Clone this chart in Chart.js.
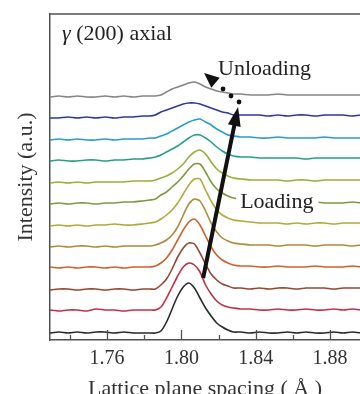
<!DOCTYPE html>
<html>
<head>
<meta charset="utf-8">
<script src="https://cdn.jsdelivr.net/npm/chart.js@4.4.1/dist/chart.umd.min.js"></script>
<style>
  html, body { margin: 0; padding: 0; background: #fff; overflow: hidden; }
  #wrap { width: 360px; height: 394px; position: relative; }
</style>
</head>
<body>
<div id="wrap"><canvas id="chart"></canvas></div>
<script>
// lattice spacing grid (Å)
const xs = [
  1.729, 1.734, 1.739, 1.744, 1.749, 1.754, 1.759, 1.764, 1.769, 1.774, 1.779, 1.783,
  1.786, 1.789, 1.792, 1.795, 1.798, 1.801, 1.804, 1.807, 1.810, 1.813, 1.816, 1.819, 1.822, 1.825, 1.828,
  1.832, 1.837, 1.842, 1.847, 1.852, 1.857, 1.862, 1.867, 1.872, 1.877, 1.882, 1.887, 1.892, 1.897
]

// intensity above each trace's own baseline (a.u.), bottom trace first
const black = [0,1,0,1,0,1,1,0,1,0,0,0, 0,2,11,24,37,46,50,45,35,25,17,10,6,3,1, 1,0,1,0,0,1,0,1,0,0,1,0,1,0]
const crimson = [1,0,1,1,0,2,1,1,0,1,1,1, 1,4,13,24,35,44,48,46,39,26,17,10,6,4,3, 2,2,1,1,2,1,1,2,1,1,2,1,2,1]
const brown = [0,1,1,0,1,1,0,1,1,0,1,1, 1,5,11,21,33,42,47,46,37,26,16,10,6,4,2, 2,1,2,1,2,2,1,2,2,2,1,2,2,2]
const orange = [1,0,1,0,1,1,0,1,0,1,1,1, 2,5,10,18,28,38,46,49,43,32,21,13,8,5,3, 2,2,1,1,2,1,1,1,2,1,1,1,2,1]
const gold = [0,1,0,1,1,0,1,0,1,1,1,1, 2,4,7,12,20,32,43,48,46,36,24,15,9,6,4, 3,2,2,2,1,2,2,2,1,2,2,2,1,2]
const yellow = [0,1,0,1,0,1,1,2,1,1,2,3, 4,7,11,16,23,32,41,47,47,36,25,16,11,8,6, 5,4,3,3,3,2,3,2,3,3,2,3,3,3]
const olive = [0,1,0,1,1,0,1,1,2,2,3,4, 5,9,12,17,22,28,35,40,40,32,22,15,11,8,6, 5,3,2,2,1,2,1,1,2,1,1,1,2,1]
const green = [0,1,0,1,0,1,1,1,1,2,2,2, 3,5,7,10,14,19,26,31,33,29,21,14,10,7,5, 4,3,3,3,3,2,3,3,2,3,3,3,3,3]
const teal = [0,1,0,0,1,1,0,1,1,2,2,3, 4,6,9,12,15,19,23,26,26,23,19,14,10,7,5, 4,4,3,3,3,3,3,2,3,3,3,3,3,3]
const cyan = [0,1,0,1,0,0,1,0,1,1,1,2, 2,4,6,9,12,15,18,20,21,18,15,11,8,5,4, 3,3,2,2,3,2,2,2,2,3,2,2,2,2]
const blue = [0,0,1,0,1,0,1,0,1,1,2,2, 3,6,8,10,12,14,15,15,14,12,10,8,6,5,3, 3,3,3,2,3,2,3,3,2,3,3,3,2,3]
const gray = [0,1,0,1,0,0,1,0,1,0,1,1, 1,2,5,8,10,12,14,15,13,10,8,6,5,4,3, 3,2,2,2,3,2,2,2,2,2,2,2,2,2]

const profiles = [black, crimson, brown, orange, gold, yellow, olive, green, teal, cyan, blue, gray]
const offsets = [7, 29, 50, 72, 93, 114, 136, 157, 179, 200, 222, 243]
const colors = ['#2a2a2a', '#c0304a', '#9a4530', '#d0602a', '#b08a3a', '#b0aa3a',
                '#7e9a3e', '#98b03a', '#25a085', '#2a9bd0', '#2a3a9e', '#858585']

const tickVals = [1.74, 1.76, 1.78, 1.80, 1.82, 1.84, 1.86, 1.88]
const tickLabels = ['1.76', '1.80', '1.84', '1.88']

const serif = '"Liberation Serif", "DejaVu Serif", serif'
const frameColor = '#505050'

function drawArrowHead(ctx, tx, ty, fromX, fromY, len, w) {
  const ang = Math.atan2(ty - fromY, tx - fromX)
  ctx.beginPath()
  ctx.moveTo(tx, ty)
  ctx.lineTo(tx - len * Math.cos(ang) + (w / 2) * Math.sin(ang), ty - len * Math.sin(ang) - (w / 2) * Math.cos(ang))
  ctx.lineTo(tx - len * Math.cos(ang) - (w / 2) * Math.sin(ang), ty - len * Math.sin(ang) + (w / 2) * Math.cos(ang))
  ctx.closePath()
  ctx.fill()
}

const overlay = {
  id: 'overlay',
  afterDraw(chart) {
    const { ctx, chartArea: a, scales: { x, y } } = chart
    const px = v => x.getPixelForValue(v)
    const py = v => y.getPixelForValue(v)
    ctx.save()

    // top frame line
    ctx.strokeStyle = frameColor
    ctx.lineWidth = 1.5
    ctx.beginPath()
    ctx.moveTo(a.left, a.top)
    ctx.lineTo(a.right, a.top)
    ctx.stroke()

    // inward tick marks
    ctx.lineWidth = 1.3
    tickVals.forEach(v => {
      const len = tickLabels.includes(v.toFixed(2)) ? 10 : 5
      const xp = Math.round(px(v)) + 0.5
      ctx.beginPath()
      ctx.moveTo(xp, a.bottom)
      ctx.lineTo(xp, a.bottom - len)
      ctx.stroke()
    })

    ctx.fillStyle = '#222'
    ctx.textBaseline = 'alphabetic'

    // panel label
    ctx.font = 'italic 22px ' + serif
    ctx.fillText('γ', px(1.7358), py(300))
    const gw = ctx.measureText('γ').width
    ctx.font = '22px ' + serif
    ctx.fillText(' (200) axial', px(1.7358) + gw, py(300))

    // Unloading label
    ctx.fillText('Unloading', px(1.8197), py(265))

    // Loading label on a white patch
    const lw = ctx.measureText('Loading').width
    ctx.fillStyle = '#fff'
    ctx.fillRect(px(1.8316) - 4, py(132) - 19, lw + 9, 26)
    ctx.fillStyle = '#222'
    ctx.fillText('Loading', px(1.8316), py(132))

    // loading arrow
    ctx.fillStyle = '#111'
    ctx.strokeStyle = '#111'
    const x0 = px(1.8117), y0 = py(62), x1 = px(1.8305), y1 = py(233)
    const ang = Math.atan2(y1 - y0, x1 - x0)
    ctx.lineWidth = 4
    ctx.beginPath()
    ctx.moveTo(x0, y0)
    ctx.lineTo(x1 - 14 * Math.cos(ang), y1 - 14 * Math.sin(ang))
    ctx.stroke()
    drawArrowHead(ctx, x1, y1, x0, y0, 19, 13)

    // unloading dotted path
    const dots = [[1.8224, 251], [1.8267, 244], [1.8310, 238]]
    dots.forEach(d => {
      ctx.beginPath()
      ctx.arc(px(d[0]), py(d[1]), 2.4, 0, Math.PI * 2)
      ctx.fill()
    })
    drawArrowHead(ctx, px(1.8122), py(267), px(1.8224), py(251), 15, 13)

    ctx.restore()
  }
}

const datasets = profiles.map((p, i) => ({
  data: xs.map((xv, j) => ({ x: xv, y: p[j] + offsets[i] })),
  borderColor: colors[i],
  borderWidth: 1.6,
  pointRadius: 0,
  tension: 0.25,
  fill: false
}))

new Chart(document.getElementById('chart'), {
  type: 'line',
  data: { datasets },
  options: {
    responsive: true,
    maintainAspectRatio: false,
    animation: false,
    layout: { padding: { top: 14, right: 0, left: 0, bottom: 0 } },
    plugins: { legend: { display: false }, tooltip: { enabled: false } },
    scales: {
      x: {
        type: 'linear',
        min: 1.7293,
        max: 1.8961,
        afterBuildTicks: scale => { scale.ticks = tickVals.map(v => ({ value: v })) },
        afterFit: scale => { scale.height = 54 },
        ticks: {
          autoSkip: false,
          maxRotation: 0,
          padding: 7,
          color: '#333',
          font: { family: serif, size: 20 },
          callback: v => tickLabels.includes(Number(v).toFixed(2)) ? Number(v).toFixed(2) : ''
        },
        grid: { display: false, drawTicks: false },
        border: { display: true, color: frameColor, width: 1.5 },
        title: {
          display: true,
          text: 'Lattice plane spacing ( Å )',
          color: '#333',
          font: { family: serif, size: 22 },
          padding: { top: 0, bottom: -8 }
        }
      },
      y: {
        min: 0,
        max: 326,
        afterFit: scale => { scale.width = 50 },
        ticks: { display: false },
        grid: { display: false, drawTicks: false },
        border: { display: true, color: frameColor, width: 1.5 },
        title: {
          display: true,
          text: 'Intensity (a.u.)',
          color: '#333',
          font: { family: serif, size: 22 },
          padding: { top: 13, bottom: 0 }
        }
      }
    }
  },
  plugins: [overlay]
})
</script>
</body>
</html>
